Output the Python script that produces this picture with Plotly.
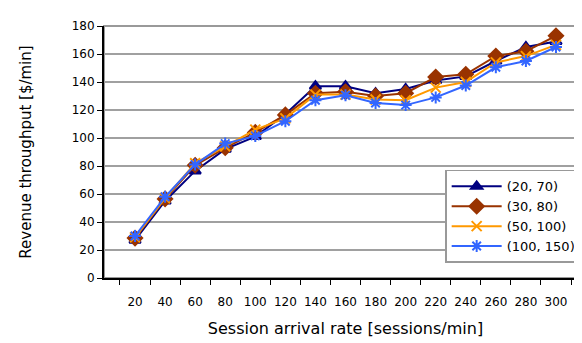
import plotly.graph_objects as go

rates = [20, 40, 60, 80, 100, 120, 140, 160, 180, 200, 220, 240, 260, 280, 300]
s_20_70 = [27, 55, 76.5, 92, 101, 117, 137, 137, 132, 135, 141, 144, 155, 165, 169]
s_30_80 = [28.5, 56.5, 80.5, 93, 104, 116.5, 132, 133, 130, 132, 143.5, 145.5, 158.5, 162, 173]
s_50_100 = [29, 57, 82, 94, 106, 114, 131, 131, 127.5, 127, 136, 140, 154, 158.5, 166.5]
s_100_150 = [30, 58, 81, 96, 101.5, 112, 127, 130.5, 125, 123.5, 129, 137.5, 150.5, 155, 165]
names = ["(20, 70)", "(30, 80)", "(50, 100)", "(100, 150)"]
y_ticks = [0, 20, 40, 60, 80, 100, 120, 140, 160, 180]

series = [s_20_70, s_30_80, s_50_100, s_100_150]
colors = ["#000080", "#993300", "#FF9900", "#3366FF"]
symbols = ["triangle-up", "diamond", "x-thin-open", "asterisk-open"]
sizes = [10, 11, 10, 10]

cats = [str(r) for r in rates]
fig = go.Figure()
for name, vals, c, sym, sz in zip(names, series, colors, symbols, sizes):
    fig.add_trace(go.Scatter(
        x=cats, y=vals, name=name, mode="lines+markers",
        line=dict(color=c, width=2),
        marker=dict(symbol=sym, size=sz, color=c, line=dict(color=c, width=2)),
    ))

font = "DejaVu Sans"
fig.update_layout(
    width=582, height=343,
    margin=dict(l=96, r=3, t=18, b=73),
    plot_bgcolor="white", paper_bgcolor="white",
    font=dict(family=font, size=12, color="black"),
    showlegend=True,
    legend=dict(
        x=0.99, y=0.06, xanchor="right", yanchor="bottom",
        bgcolor="white", bordercolor="#999999", borderwidth=1.5,
        font=dict(family=font, size=13), tracegroupgap=0, itemwidth=50,
    ),
    shapes=[dict(type="rect", xref="paper", yref="paper", x0=0, y0=0, x1=1, y1=1,
                 line=dict(color="#999999", width=2), layer="below")],
)
fig.update_xaxes(
    type="category", tickson="boundaries", ticks="outside", ticklen=5,
    tickcolor="black", showline=True, linecolor="black", linewidth=2,
    showgrid=False, ticklabelstandoff=12, tickangle=0,
    tickfont=dict(family=font, size=12),
    title=dict(text="Session arrival rate [sessions/min]", font=dict(family=font, size=16), standoff=14),
)
fig.update_yaxes(
    range=[0, 180], tickvals=y_ticks, ticks="outside", ticklen=5,
    tickcolor="black", showline=True, linecolor="black", linewidth=2,
    showgrid=True, gridcolor="#A0A0A0", gridwidth=2, zeroline=False,
    tickfont=dict(family=font, size=12),
    title=dict(text="Revenue throughput [$/min]", font=dict(family=font, size=15), standoff=36),
)
fig.write_html("out.html")
